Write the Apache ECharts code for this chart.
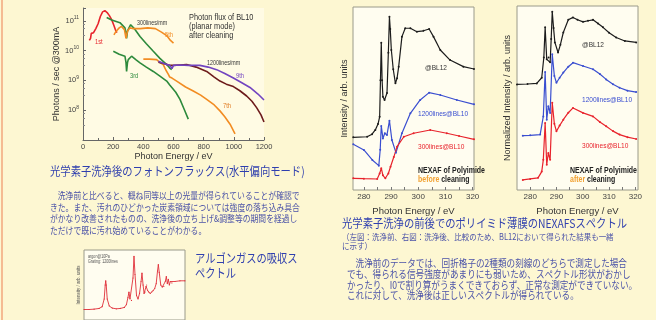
<!DOCTYPE html>
<html>
<head>
<meta charset="utf-8">
<script src="https://cdn.jsdelivr.net/npm/echarts@6/dist/echarts.min.js"></script>
<style>
  html, body { margin: 0; padding: 0; background: #fdf7d2; }
  #chart { width: 656px; height: 320px; }
</style>
</head>
<body>
<div id="chart"></div>
<script>
// photon flux of BL10 after cleaning [eV, photons/sec]
var flux1st = [[42,2.2e10],[50,2.6e10],[55,3.8e10],[70,4.0e10],[85,5.5e10],[100,8e10],[115,1.4e11],[130,2.0e11],[145,2.2e11],[160,1.9e11],[175,1.5e11],[190,1.1e11],[205,7e10],[215,5e10],[225,4e10]];
var flux3rdA = [[157,1.3e11],[190,1.07e11],[245,8.7e10],[278,5.8e10],[285,4e10],[289,2.6e10],[295,4.5e10],[305,5.8e10],[316,7.4e10],[340,5.5e10],[378,3.0e10],[420,1.7e10],[466,9.5e9],[510,5.5e9],[555,3.4e9],[575,2.6e9],[588,2.3e9]];
var flux3rdB = [[201,9.5e9],[240,7.6e9],[278,6.5e9],[285,4e9],[289,2.0e9],[295,4e9],[300,5e9],[322,6.5e9],[350,5e9],[378,3.9e9],[420,2.8e9],[466,2.0e9],[510,1.4e9],[555,9.5e8],[575,7e8],[588,6.5e8],[615,4e8],[643,2.3e8],[670,1.1e8],[698,5e7]];
var flux5th = [[205,3.4e10],[220,4.5e10],[240,5.8e10],[255,6.5e10],[275,5e10],[285,2.6e10],[295,4.5e10],[310,5.8e10],[330,5.5e10],[380,5.5e10],[430,5.8e10],[480,5.5e10],[520,4.2e10],[555,3.2e10],[580,2.2e10],[600,1.8e10]];
var flux7th = [[400,5.2e9],[440,5.2e9],[488,5.0e9],[510,4.0e9],[532,3.4e9],[550,2.2e9],[566,1.6e9],[575,1.3e9],[590,1.2e9],[621,9.5e8],[680,6e8],[731,4.4e8],[780,3.2e8],[820,2.3e8],[870,1.5e8],[908,9.5e7],[940,6e7],[975,3.4e7],[1008,1.6e7]];
var fluxBrown = [[500,4.1e9],[540,3.6e9],[575,3.2e9],[597,3.2e9],[640,3.3e9],[687,3.4e9],[750,2.8e9],[820,2.0e9],[870,1.3e9],[908,9.5e8],[950,7.5e8],[997,6.2e8],[1040,4.5e8],[1085,3.0e8],[1120,2.0e8],[1152,1.2e8],[1180,7e7],[1200,4e7]];
var flux9th = [[500,4.4e9],[540,3.6e9],[575,3.2e9],[590,2.5e9],[600,3.2e9],[643,3.3e9],[700,3.2e9],[775,3.2e9],[830,2.8e9],[886,2.3e9],[940,1.7e9],[997,1.2e9],[1050,8.5e8],[1107,5.8e8],[1160,3.5e8],[1200,2.2e8]];
var energyTicks = [0, 200, 400, 600, 800, 1000, 1200];

// NEXAFS of polyimide, before cleaning [eV, arb.]
var beforeBL12 = [[276.1,28.8],[281.2,29.1],[283,30.5],[284.2,32.8],[285.2,36],[285.8,40],[286.1,60],[286.4,80.5],[286.7,60],[287,51],[287.6,49.2],[288.5,53],[289,75],[289.4,94.7],[289.7,88],[290.1,76.5],[290.8,66],[291.6,58.3],[292.2,61],[292.8,67.4],[294,83.8],[295.2,88.4],[297.1,88.4],[299.5,86.5],[301.9,87],[304,88],[305.6,83.8],[308.1,76.5],[311.7,71],[316.6,67.4],[320.5,66.1]];
var before1200 = [[276.1,25],[280,21.9],[283.1,16.4],[285.5,13.3],[286,22],[286.4,35],[287,28.2],[287.7,31],[288.5,30.1],[289.4,37.9],[290.3,27.3],[291.8,20.4],[294,31],[297.1,41.9],[300.7,49.2],[304,53.2],[308.1,51.9],[314.2,49.2],[320.5,46.8]];
var before300 = [[276.1,6.4],[280,6.2],[284.9,6],[285.8,9],[286.4,11.9],[287,8],[287.9,6.4],[289,9],[289.8,12.7],[291,18],[292.2,23.7],[294.7,29.1],[298.3,31],[304.4,32.8],[310.5,31],[315,29.5],[320.5,27.7]];
// NEXAFS of polyimide, after cleaning
var afterBL12 = [[275,57.4],[279,57.6],[282.5,57.9],[284.4,61],[285.2,72],[285.7,88.4],[286.3,71],[287,72],[287.6,69.4],[288,82],[288.4,96.9],[288.9,88],[289.4,80.2],[290.6,74.7],[291.5,79],[292.6,85.6],[294.5,92.5],[296.3,93.8],[298,92.5],[300.1,91.4],[302,92],[303.9,92.5],[305.8,90.5],[307.7,88.4],[310,85.5],[312.7,82.9],[316,81],[320.3,80.2]];
var after1200 = [[277.2,29.5],[280,29.7],[283.8,30.1],[285,40],[285.7,64.1],[286.3,38.2],[286.9,45.5],[287.6,41.9],[288.4,73.8],[289.2,62],[290,58.3],[291.2,61],[292.6,63.8],[294.5,67],[296.3,69.2],[300.1,67.4],[303.9,65.6],[306.5,63],[308.9,60.1],[311.5,57.5],[314,55.6],[317,54],[320.3,53.2]];
var after300 = [[277.2,5.5],[280,6],[283,6.6],[284.4,10],[285,16.4],[285.7,36.4],[286.3,13.7],[286.9,20.1],[287.6,16.4],[288.4,47.4],[289.2,36],[290,31.9],[291.2,35],[292.6,38.2],[294.5,42],[296.3,44.6],[300.1,41.9],[303.9,40],[306.5,37],[308.9,34.6],[311.5,32],[314,30.1],[317,28.7],[320.3,27.7]];
var nexafsTicks = [280, 290, 300, 310, 320];

// argon gas absorption spectrum [eV, arb.]
var argon = [[243.0,15],[243.5,15],[244.0,15.5],[244.5,16.5],[244.8,19],[245.0,30],[245.1,50],[245.15,56],[245.2,50],[245.3,30],[245.5,20],[245.8,17],[246.2,16],[246.6,16.5],[247.0,18],[247.2,22],[247.35,32],[247.45,40],[247.55,30],[247.7,28],[247.85,60],[247.95,91],[248.05,65],[248.2,35],[248.35,30],[248.5,38],[248.65,55],[248.74,67],[248.85,50],[248.95,38],[249.05,40],[249.15,48],[249.2,50],[249.3,42],[249.4,40],[249.55,38],[249.7,40],[249.85,42],[250.0,45],[250.15,52],[250.28,70],[250.36,79],[250.45,68],[250.6,50],[250.75,47],[250.9,48],[251.05,55],[251.15,62],[251.25,52],[251.35,58],[251.45,50],[251.55,55],[251.7,53],[252.0,55],[252.5,56],[253.0,56]];

var LAT = 'Liberation Sans, Arial, sans-serif';
var JP = 'Noto Sans CJK JP, sans-serif';
var BLUE_T = '#2f3fae';
var BLUE_P = '#4a52a8';

var chart = echarts.init(document.getElementById('chart'));

// 文字は横方向に少し詰める（元画像がつぶれているため）
function txt(x, y, text, size, color, extra, style) {
  return Object.assign({
    type: 'text', x: x, y: y, scaleX: 0.82, silent: true,
    style: Object.assign({
      text: text, fontSize: size, fontFamily: LAT, fill: color,
      align: 'left', verticalAlign: 'middle'
    }, style || {})
  }, extra || {});
}
function jp(x, y, text, size, color, sx) {
  return txt(x, y, text, size, color, { scaleX: sx }, { fontFamily: JP });
}

function fluxLine(name, data, color) {
  return {
    name: name, type: 'line', xAxisIndex: 0, yAxisIndex: 0, data: data,
    showSymbol: false, lineStyle: { color: color, width: 1.6 }, z: 3
  };
}
function nexLine(name, data, color, idx) {
  return {
    name: name, type: 'line', xAxisIndex: idx, yAxisIndex: idx, data: data,
    symbol: 'circle', symbolSize: 2, itemStyle: { color: color },
    lineStyle: { color: color, width: 1.2 }
  };
}

var nexX = function (idx, min, max) {
  return {
    gridIndex: idx, type: 'value', min: min, max: max,
    axisLine: { show: false },
    axisTick: { show: true, inside: true, length: 3, lineStyle: { color: '#777' }, customValues: [280,285,290,295,300,305,310,315,320] },
    axisLabel: { fontSize: 8, color: '#444', margin: 3, fontFamily: LAT, customValues: nexafsTicks },
    splitLine: { show: false },
    name: 'Photon Energy / eV', nameLocation: 'middle', nameGap: 9,
    nameTextStyle: { fontSize: 9.5, color: '#333', fontFamily: LAT }
  };
};
var nexY = function (idx, name, gap) {
  return {
    gridIndex: idx, type: 'value', min: 0, max: 100,
    axisLine: { show: false }, axisTick: { show: false },
    axisLabel: { show: false }, splitLine: { show: false },
    name: name, nameLocation: 'middle', nameGap: gap,
    nameTextStyle: { fontSize: 9, color: '#333', fontFamily: LAT }
  };
};

var option = {
  backgroundColor: '#fdf7d2',
  animation: false,
  grid: [
    { left: 83, top: 8, width: 181, height: 132, show: true, backgroundColor: '#fffbe4', borderWidth: 0 },
    { left: 353, top: 7, width: 121, height: 183, show: true, backgroundColor: '#fffdf0', borderColor: '#9a9a8a', borderWidth: 1 },
    { left: 517, top: 6, width: 121, height: 184, show: true, backgroundColor: '#fffdf0', borderColor: '#9a9a8a', borderWidth: 1 },
    { left: 84, top: 250, width: 101, height: 80, show: true, backgroundColor: '#fffdf0', borderColor: '#9a9a8a', borderWidth: 1 }
  ],
  xAxis: [
    {
      gridIndex: 0, type: 'value', min: 0, max: 1200, interval: 200,
      axisLine: { lineStyle: { color: '#666' } },
      axisTick: { inside: true, length: 3, lineStyle: { color: '#666' } },
      minorTick: { show: true, splitNumber: 2, length: 2, lineStyle: { color: '#666' } },
      axisLabel: { fontSize: 7.5, color: '#444', margin: 3, fontFamily: LAT,
        customValues: energyTicks, formatter: function (v) { return String(v); } },
      splitLine: { show: false },
      name: 'Photon Energy / eV', nameLocation: 'middle', nameGap: 12,
      nameTextStyle: { fontSize: 9, color: '#333', fontFamily: LAT }
    },
    nexX(1, 276, 320.5),
    nexX(2, 275, 321),
    { gridIndex: 3, type: 'value', min: 243, max: 253, show: false }
  ],
  yAxis: [
    {
      gridIndex: 0, type: 'log', logBase: 10, min: 1e7, max: 2.7e11,
      axisLine: { show: true, lineStyle: { color: '#666' } },
      axisTick: { show: true, inside: true, length: 3, lineStyle: { color: '#666' } },
      minorTick: { show: true, splitNumber: 4, length: 2, lineStyle: { color: '#888' } },
      splitLine: { show: false },
      axisLabel: {
        fontSize: 7.5, color: '#444', margin: 4, fontFamily: LAT,
        formatter: function (v) {
          var e = Math.log(v) / Math.LN10;
          var n = Math.round(e);
          if (Math.abs(e - n) > 0.02 || n < 8 || n > 11) return '';
          return '10{s|' + n + '}';
        },
        rich: { s: { fontSize: 5, verticalAlign: 'top', padding: [0, 0, 6, 0], fontFamily: LAT, color: '#444' } }
      },
      name: 'Photons / sec @300mA', nameLocation: 'middle', nameGap: 13,
      nameTextStyle: { fontSize: 9, color: '#333', fontFamily: LAT }
    },
    nexY(1, 'Intensity / arb. units', 4),
    nexY(2, 'Normalized Intensity / arb. units', 5),
    {
      gridIndex: 3, type: 'value', min: 0, max: 100,
      axisLine: { show: false }, axisTick: { show: false }, axisLabel: { show: false }, splitLine: { show: false },
      name: 'Intensity / arb. units', nameLocation: 'middle', nameGap: 3,
      nameTextStyle: { fontSize: 4.5, color: '#555', fontFamily: LAT }
    }
  ],
  series: [
    fluxLine('1st', flux1st, '#e8242c'),
    fluxLine('3rd 300lines', flux3rdA, '#2d8a3c'),
    fluxLine('3rd 1200lines', flux3rdB, '#2d8a3c'),
    fluxLine('5th', flux5th, '#f28c22'),
    fluxLine('7th', flux7th, '#f28c22'),
    fluxLine('7th 1200lines', fluxBrown, '#6e1c1c'),
    fluxLine('9th', flux9th, '#7244c0'),
    nexLine('@BL12 before', beforeBL12, '#1c1c1c', 1),
    nexLine('1200lines@BL10 before', before1200, '#3a4ed0', 1),
    nexLine('300lines@BL10 before', before300, '#e8232c', 1),
    nexLine('@BL12 after', afterBL12, '#1c1c1c', 2),
    nexLine('1200lines@BL10 after', after1200, '#3a4ed0', 2),
    nexLine('300lines@BL10 after', after300, '#e8232c', 2),
    {
      name: 'argon', type: 'line', xAxisIndex: 3, yAxisIndex: 3, data: argon,
      symbol: 'circle', symbolSize: 1.2, itemStyle: { color: '#e0303a' },
      lineStyle: { color: '#e0303a', width: 0.9 }
    }
  ],
  graphic: [
    { type: 'line', silent: true, shape: { x1: 2, y1: 0, x2: 2, y2: 320 }, style: { stroke: '#f2a77c', lineWidth: 1.5 } },
    // flux chart annotations
    txt(189, 18, 'Photon flux of BL10', 9, '#333'),
    txt(189, 27, '(planar mode)', 9, '#333'),
    txt(189, 36, 'after cleaning', 9, '#333'),
    txt(137, 23, '300lines/mm', 6.5, '#333'),
    txt(207, 63, '1200lines/mm', 6.5, '#333'),
    txt(95, 42, '1st', 7, '#e8242c'),
    txt(130, 76, '3rd', 7, '#2d8a3c'),
    txt(165, 35, '5th', 7, '#f28c22'),
    txt(223, 106, '7th', 7, '#e07a20'),
    txt(236, 76, '9th', 7, '#7244c0'),
    // NEXAFS before
    txt(425, 68, '@BL12', 8, '#333'),
    txt(418, 114, '1200lines@BL10', 8, '#3a4ed0'),
    txt(418, 147, '300lines@BL10', 8, '#e8232c'),
    txt(418, 171, 'NEXAF of Polyimide', 8.5, '#222', null, { fontWeight: 'bold' }),
    txt(418, 180, '{o|before} cleaning', 8.5, '#222', null, { fontWeight: 'bold', rich: { o: { fill: '#f2a030', fontSize: 8.5, fontWeight: 'bold', fontFamily: LAT } } }),
    // NEXAFS after
    txt(582, 45, '@BL12', 8, '#333'),
    txt(582, 100, '1200lines@BL10', 8, '#3a4ed0'),
    txt(582, 146, '300lines@BL10', 8, '#e8232c'),
    txt(570, 171, 'NEXAF of Polyimide', 8.5, '#222', null, { fontWeight: 'bold' }),
    txt(570, 180, '{o|after} cleaning', 8.5, '#222', null, { fontWeight: 'bold', rich: { o: { fill: '#f2a030', fontSize: 8.5, fontWeight: 'bold', fontFamily: LAT } } }),
    // argon box notes
    txt(88, 257, 'argon@10Pa', 4.5, '#555'),
    txt(88, 262, 'Grating: 1200lines', 4.5, '#555'),
    // Japanese captions
    jp(50, 171, '光学素子洗浄後のフォトンフラックス(水平偏向モード)', 12, BLUE_T, 0.86),
    jp(50, 195, '　洗浄前と比べると、概ね同等以上の光量が得られていることが確認で', 9.3, BLUE_P, 0.84),
    jp(50, 207, 'きた。また、汚れのひどかった炭素領域については強度の落ち込み具合', 9.3, BLUE_P, 0.84),
    jp(50, 218.5, 'がかなり改善されたものの、洗浄後の立ち上げ&調整等の期間を経過し', 9.3, BLUE_P, 0.84),
    jp(50, 230, 'ただけで既に汚れ始めていることがわかる。', 9.3, BLUE_P, 0.84),
    jp(195, 258, 'アルゴンガスの吸収ス', 12.5, BLUE_T, 0.82),
    jp(195, 273, 'ペクトル', 12.5, BLUE_T, 0.82),
    jp(342, 223, '光学素子洗浄の前後でのポリイミド薄膜のNEXAFSスペクトル', 12, BLUE_T, 0.86),
    jp(342, 237, '（左図：洗浄前、右図：洗浄後、比較のため、BL12において得られた結果も一緒', 8.5, BLUE_P, 0.88),
    jp(342, 245.5, 'に示す）', 8.5, BLUE_P, 0.88),
    jp(347, 263, '　洗浄前のデータでは、回折格子の2種類の刻線のどちらで測定した場合', 10, BLUE_P, 0.86),
    jp(347, 274, 'でも、得られる信号強度があまりにも弱いため、スペクトル形状がおかし', 10, BLUE_P, 0.86),
    jp(347, 285, 'かったり、I0で割り算がうまくできておらず、正常な測定ができていない。', 10, BLUE_P, 0.86),
    jp(347, 295.5, 'これに対して、洗浄後は正しいスペクトルが得られている。', 10, BLUE_P, 0.86)
  ]
};

chart.setOption(option);
</script>
</body>
</html>
